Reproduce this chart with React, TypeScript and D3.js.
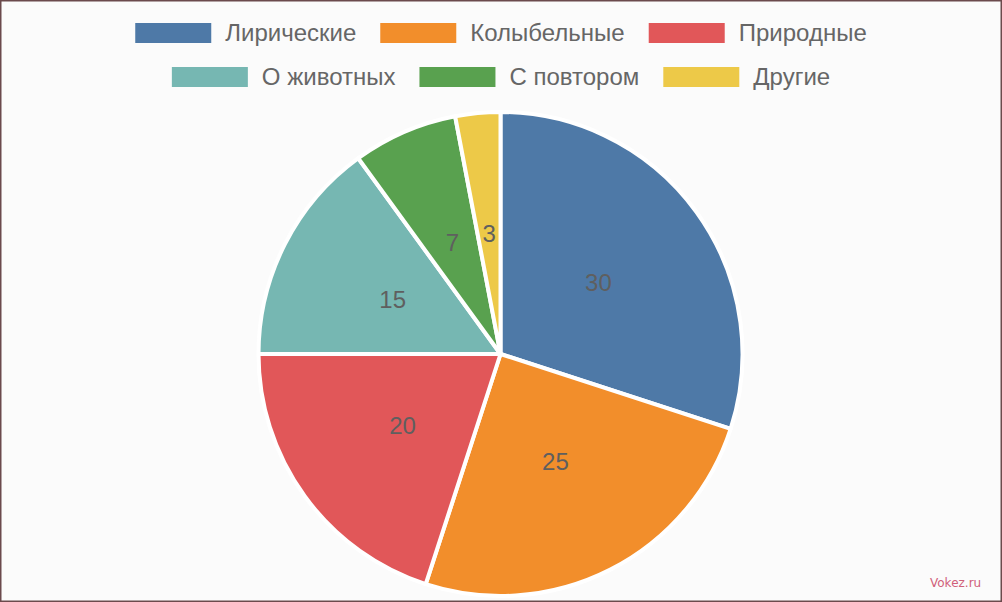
import React, { useEffect, useRef } from "react";
import * as d3 from "d3";

const categories = ["Лирические", "Колыбельные", "Природные", "О животных", "С повтором", "Другие"];
const values = [30, 25, 20, 15, 7, 3];
const colors = ["#4e79a7", "#f28e2b", "#e15759", "#76b7b2", "#59a14f", "#edc948"];
const legendRows = [[0, 1, 2], [3, 4, 5]];

const W = 1002;
const H = 602;

export default function App() {
  const ref = useRef<SVGSVGElement>(null);

  useEffect(() => {
    const svg = d3.select(ref.current);
    svg.selectAll("*").remove();

    svg.append("rect").attr("x", 0).attr("y", 0).attr("width", W).attr("height", H).attr("fill", "#fbfbfb");

    const cx = 500.5, cy = 354, r = 242;
    const pie = d3.pie<number>().sort(null).value((d) => d);
    const arcs = pie(values);
    const arc = d3.arc<d3.PieArcDatum<number>>().innerRadius(0).outerRadius(r);
    const labelArc = d3.arc<d3.PieArcDatum<number>>().innerRadius(r * 0.5).outerRadius(r * 0.5);

    const g = svg.append("g").attr("transform", `translate(${cx},${cy})`);
    g.selectAll("path.slice")
      .data(arcs)
      .enter()
      .append("path")
      .attr("class", "slice")
      .attr("d", arc as any)
      .attr("fill", (_, i) => colors[i])
      .attr("stroke", "#ffffff")
      .attr("stroke-width", 4)
      .attr("stroke-linejoin", "round");

    g.selectAll("text.lbl")
      .data(arcs)
      .enter()
      .append("text")
      .attr("class", "lbl")
      .attr("x", (d) => labelArc.centroid(d)[0])
      .attr("y", (d) => labelArc.centroid(d)[1])
      .attr("text-anchor", "middle")
      .attr("dominant-baseline", "central")
      .attr("font-family", "'Liberation Sans', Arial, sans-serif")
      .attr("font-size", 24)
      .attr("fill", "#5f5f5f")
      .text((d) => String(d.data));

    // Legend
    const boxW = 76, boxH = 20, gapText = 14, gapItem = 24;
    const rowY = [33, 77];
    legendRows.forEach((row, ri) => {
      const lg = svg.append("g");
      const items = row.map((idx) => {
        const t = lg
          .append("text")
          .attr("font-family", "'Liberation Sans', Arial, sans-serif")
          .attr("font-size", 24)
          .attr("fill", "#666666")
          .attr("dominant-baseline", "central")
          .attr("y", rowY[ri] - 0.5)
          .text(categories[idx]);
        const tw = (t.node() as SVGTextElement).getComputedTextLength();
        return { idx, t, tw };
      });
      const total = items.reduce((s, it) => s + boxW + gapText + it.tw, 0) + gapItem * (items.length - 1);
      let x = W / 2 - total / 2;
      items.forEach((it) => {
        lg.append("rect")
          .attr("x", x)
          .attr("y", rowY[ri] - boxH / 2)
          .attr("width", boxW)
          .attr("height", boxH)
          .attr("fill", colors[it.idx]);
        it.t.attr("x", x + boxW + gapText);
        x += boxW + gapText + it.tw + gapItem;
      });
    });

    svg.append("text")
      .attr("x", 930)
      .attr("y", 587)
      .attr("font-family", "'DejaVu Sans', sans-serif")
      .attr("font-size", 12)
      .attr("fill", "#d0607a")
      .text("Vokez.ru");

    svg.append("rect")
      .attr("x", 0.75)
      .attr("y", 0.75)
      .attr("width", W - 1.5)
      .attr("height", H - 1.5)
      .attr("fill", "none")
      .attr("stroke", "#6b4a4c")
      .attr("stroke-width", 1.5);
  }, []);

  return (
    <svg
      ref={ref}
      width={W}
      height={H}
      style={{ position: "fixed", left: 0, top: 0, display: "block" }}
    />
  );
}
